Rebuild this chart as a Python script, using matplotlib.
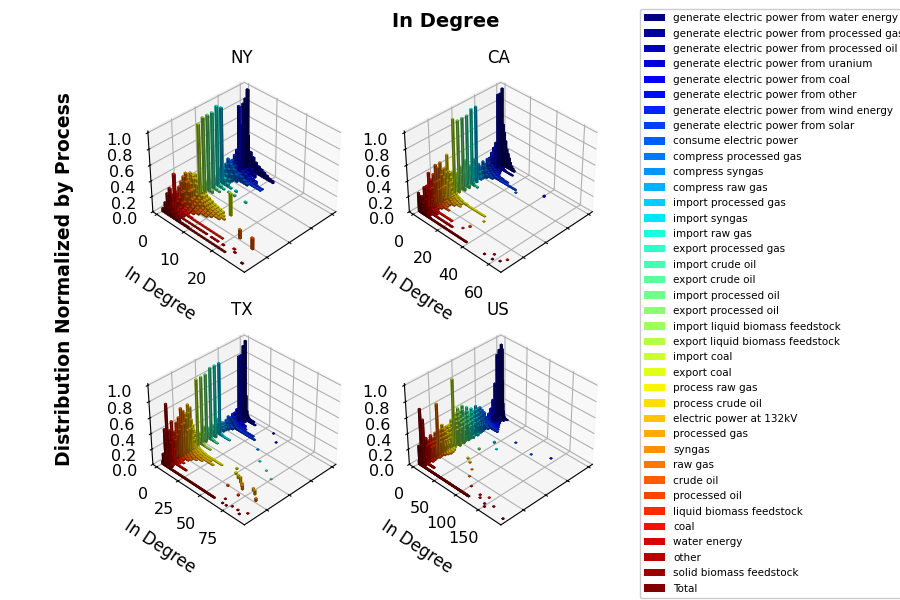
import matplotlib
matplotlib.use("Agg")
import matplotlib.pyplot as plt
from matplotlib.patches import Patch
import numpy as np

processes = [
    "generate electric power from water energy",
    "generate electric power from processed gas",
    "generate electric power from processed oil",
    "generate electric power from uranium",
    "generate electric power from coal",
    "generate electric power from other",
    "generate electric power from wind energy",
    "generate electric power from solar",
    "consume electric power",
    "compress processed gas",
    "compress syngas",
    "compress raw gas",
    "import processed gas",
    "import syngas",
    "import raw gas",
    "export processed gas",
    "import crude oil",
    "export crude oil",
    "import processed oil",
    "export processed oil",
    "import liquid biomass feedstock",
    "export liquid biomass feedstock",
    "import coal",
    "export coal",
    "process raw gas",
    "process crude oil",
    "electric power at 132kV",
    "processed gas",
    "syngas",
    "raw gas",
    "crude oil",
    "processed oil",
    "liquid biomass feedstock",
    "coal",
    "water energy",
    "other",
    "solid biomass feedstock",
    "Total",
]

# distribution value of each process at in-degree 0, 1, 2, ...
ny_values = [
    [0, 1.0],
    [0, 0.9, 0.45, 0.25, 0.2, 0.15, 0.12, 0.1, 0.08, 0.06, 0.04, 0.03],
    [0, 0.85, 0.2, 0.1, 0.06],
    [0, 0.6, 0.3, 0.2, 0.15, 0.1, 0.05],
    [0, 0.85, 0.3, 0.15, 0.1],
    [0, 0.3, 0.2, 0.15, 0.1, 0.08, 0.05, 0.04, 0.03],
    [0, 0.25, 0.18, 0.12, 0.1, 0.08, 0.05, 0.03, 0.02, 0.02, 0.01, 0.01],
    [0, 0.2, 0.15, 0.1, 0.08, 0.05, 0.03, 0.02, 0.02, 0.01, 0.01, 0.01],
    [0, 0.2, 0.15, 0.12, 0.1, 0.08, 0.05, 0.03],
    [0, 0.25, 0.2, 0.15, 0.1],
    [0, 0.2, 0.15, 0.1],
    [0, 0.15, 0.1, 0.05],
    [0, 0.95],
    [0, 0.2, 0.15, 0.1, 0.05, 0.02, 0, 0.02],
    [0, 1.0],
    [0, 0.1, 0.06, 0.04, 0.02, 0, 0.02, 0, 0.02],
    [0, 0.95],
    [0, 0.1, 0.05, 0.03, 0.02],
    [0, 0.95],
    [0, 0.12, 0.08, 0.04],
    [0, 0.95],
    [0, 0.1, 0.05],
    [0, 0.9],
    [0, 0.1, 0.05],
    [0, 0.3, 0.25, 0.2, 0.15, 0.12, 0.1, 0.08, 0.06, 0.05, 0.04, 0.03],
    [0, 0.3, 0.28, 0.22, 0.15, 0.12, 0.1, 0.08, 0.06, 0.05, 0.04, 0.03, 0.02],
    [0, 0.35, 0.3, 0.25, 0.18, 0.14, 0.1, 0.08, 0.06, 0.05, 0.04, 0.03, 0.02, 0.02],
    [0, 0.3, 0.25, 0.2, 0.15, 0.12, 0.1, 0.08, 0.06, 0.04, 0.03, 0.02, 0.02],
    [0, 0.38, 0.3, 0.2, 0.12, 0.1, 0.08, 0.05, 0.04, 0.03, 0.02],
    [0, 0.35, 0.3, 0.2, 0.12, 0.08, 0.05, 0.04, 0.03, 0.02],
    [0, 0.3, 0.2, 0.15, 0.1, 0.06, 0.04, 0.03],
    [0, 0.25, 0.2, 0.1, 0.06, 0.04, 0.02],
    [0, 0.2, 0.15, 0.1, 0.05, 0.03],
    [0, 0.45, 0.12, 0.06, 0.04, 0.03, 0.02, 0.02, 0.01, 0.01, 0.01, 0.01, 0.01, 0.01, 0.01, 0.01, 0.01, 0.01, 0.01],
    [0, 0.2, 0.1, 0.05, 0.03, 0.02],
    [0, 0.3, 0.12, 0.05, 0.03, 0.02, 0.01, 0.01, 0.01, 0.01, 0.01, 0.01, 0.01, 0.01, 0.01, 0, 0.01, 0.01, 0.01, 0, 0.01],
    [0, 0.25, 0.1, 0.05, 0.03, 0.02],
    [0.05, 0.15, 0.1, 0.06, 0.05, 0.04, 0.03, 0.02, 0.02, 0.02, 0.01, 0.01, 0.01, 0.01, 0.01, 0.01, 0.01, 0.01, 0.01, 0.01, 0.01, 0.01, 0.01],
]
ny_extra = [(23, 13, 0.3), (15, 12, 0.02), (29, 21, 0.12), (30, 26, 0.15), (37, 28, 0.01), (35, 24, 0.01), (34, 23, 0.01)]

ca_values = [
    [0, 1.0, 0.55, 0.45, 0.35, 0.25, 0.2, 0.15, 0.1, 0.06, 0.04, 0.02],
    [0, 0.95, 0.3, 0.1, 0.05],
    [0, 0.95, 0.25, 0.1, 0.05, 0.03, 0.02, 0.02, 0.01, 0.01, 0.01, 0.01, 0.01, 0.01],
    [0, 0.35, 0.25, 0.15, 0.1, 0.06],
    [0, 0.3, 0.2, 0.15, 0.1, 0.08, 0.05],
    [0, 0.25, 0.2, 0.15, 0.1, 0.06, 0.04, 0.03],
    [0, 0.2, 0.15, 0.12, 0.1, 0.08, 0.06, 0.05, 0.04, 0.03, 0.02, 0.02, 0.02, 0.01, 0.01, 0.01, 0.01],
    [0, 0.2, 0.15, 0.1, 0.08, 0.06, 0.05, 0.04, 0.03, 0.02, 0.02, 0.01, 0.01, 0.01, 0.01, 0.01, 0.01, 0.01, 0.01, 0.01, 0.01, 0.01, 0.01, 0.01, 0.01],
    [0, 0.15, 0.1, 0.08, 0.06, 0.04, 0.03, 0.02],
    [0, 0.2, 0.15, 0.1, 0.05],
    [0, 0.15, 0.1, 0.05],
    [0, 0.2, 0.1, 0.05],
    [0, 0.95],
    [0, 0.3, 0.2, 0.1],
    [0, 0.95],
    [0, 0.25, 0.15, 0.1, 0.05, 0.02, 0, 0.02],
    [0, 0.9],
    [0, 0.35, 0.2, 0.1, 0.05],
    [0, 0.9],
    [0, 0.3, 0.2, 0.1, 0.05],
    [0, 0.9],
    [0, 0.25, 0.15, 0.1],
    [0, 0.95],
    [0, 0.3, 0.2, 0.1],
    [0, 0.3, 0.25, 0.2, 0.15, 0.1, 0.08, 0.06, 0.05, 0.04, 0.03, 0.03, 0.02, 0.02, 0.02, 0.02, 0.01, 0.01, 0.01, 0.01, 0.01, 0.01, 0.01, 0.01, 0.01, 0.01, 0.01, 0.01, 0.01, 0.01],
    [0, 0.55, 0.35, 0.2, 0.15, 0.1, 0.08, 0.06, 0.05, 0.04, 0.03, 0.02, 0.02],
    [0, 0.4, 0.35, 0.25, 0.15, 0.1, 0.08, 0.06, 0.04, 0.03, 0.02, 0.02, 0.01, 0.01],
    [0, 0.4, 0.3, 0.2, 0.15, 0.1, 0.08, 0.06, 0.04, 0.03, 0.02],
    [0, 0.5, 0.35, 0.2, 0.1, 0.08, 0.05, 0.04, 0.03],
    [0, 0.45, 0.3, 0.2, 0.12, 0.08, 0.05, 0.03, 0.02],
    [0, 0.5, 0.3, 0.2, 0.1, 0.06, 0.04, 0.03, 0.02, 0.02, 0.01, 0.01],
    [0, 0.4, 0.3, 0.15, 0.08, 0.05, 0.03, 0.02],
    [0, 0.35, 0.25, 0.15, 0.08, 0.05, 0.03],
    [0, 0.45, 0.25, 0.12, 0.08, 0.05, 0.03, 0.02, 0.02, 0.01, 0.01, 0.01, 0.01, 0.01, 0.01, 0.01, 0.01, 0.01, 0.01, 0.01],
    [0, 0.3, 0.2, 0.1, 0.05, 0.03, 0.02, 0.02, 0.01, 0.01],
    [0, 0.3, 0.15, 0.08, 0.05, 0.03, 0.02, 0.01, 0.01, 0.01, 0.01, 0.01, 0.01, 0.01, 0.01, 0.01, 0.01, 0.01, 0.01, 0.01, 0.01, 0.01, 0.01, 0.01],
    [0, 0.2, 0.12, 0.08, 0.05, 0.03, 0.02, 0.01],
    [0.25, 0.22, 0.15, 0.1, 0.06, 0.04, 0.03, 0.02, 0.02, 0.02, 0.01, 0.01, 0.01, 0.01, 0.01, 0.01, 0.01, 0.01, 0.01, 0.01,
     0.01, 0.01, 0.01, 0.01, 0.01, 0.01, 0.01, 0.01, 0.01, 0.01, 0.01, 0.01, 0.01, 0.01, 0.01, 0.01, 0.01, 0.01, 0.01],
]
ca_extra = [(3, 40, 0.02), (8, 26, 0.01), (26, 32, 0.01), (31, 30, 0.02), (33, 28, 0.01),
            (37, 52, 0.01), (37, 58, 0.01), (36, 62, 0.01), (35, 56, 0.01), (34, 64, 0.01)]

tx_values = [
    [0, 1.0, 0.3, 0.1, 0.05, 0.03, 0.02, 0.01, 0.01, 0.01, 0.01, 0.01],
    [0, 0.95, 0.9, 0.2, 0.1, 0.05, 0.04, 0.03, 0.02, 0.02, 0.01, 0.01, 0.01, 0.01, 0.01, 0.01],
    [0, 0.85, 0.7, 0.85, 0.1, 0.05, 0.03],
    [0, 0.85, 0.15, 0.1, 0.05],
    [0, 0.18, 0.15, 0.12, 0.1, 0.08, 0.06, 0.05, 0.04, 0.03, 0.02, 0.02],
    [0, 0.15, 0.15, 0.12, 0.1, 0.08, 0.06, 0.05, 0.04, 0.03, 0.02, 0.02, 0.02, 0.01, 0.01],
    [0, 0.15, 0.12, 0.12, 0.1, 0.08, 0.06, 0.05, 0.04, 0.04, 0.03, 0.03, 0.02, 0.02, 0.02, 0.02, 0.01, 0.01, 0.01, 0.01, 0.01, 0.01, 0.01, 0.01, 0.01, 0.01],
    [0, 0.12, 0.12, 0.1, 0.1, 0.08, 0.06, 0.05, 0.04, 0.03, 0.03, 0.02, 0.02, 0.02, 0.02, 0.02, 0.01, 0.01, 0.01, 0.01, 0.01, 0.01, 0.01, 0.01, 0.01, 0.01, 0.01, 0.01, 0.01, 0.01],
    [0, 0.15, 0.1, 0.08, 0.05, 0.04, 0.03],
    [0, 0.12, 0.1, 0.06, 0.04],
    [0, 0.1, 0.08, 0.05],
    [0, 0.12, 0.08, 0.05],
    [0, 0.9],
    [0, 0.2, 0.15, 0.1, 0.05, 0.03, 0.02, 0.02, 0.01, 0.01, 0.01, 0.01, 0.01, 0.01, 0.01, 0.01],
    [0, 0.9],
    [0, 0.15, 0.1, 0.08, 0.05],
    [0, 0.9],
    [0, 0.15, 0.1, 0.06, 0.04, 0.03, 0.02, 0.02, 0.01, 0.01, 0.01, 0.01],
    [0, 0.85],
    [0, 0.2, 0.12, 0.06],
    [0, 0.85],
    [0, 0.15, 0.1, 0.06, 0.04, 0.03, 0.02, 0.01, 0.01, 0.01, 0.01, 0.01, 0.01, 0.01],
    [0, 0.85],
    [0, 0.2, 0.15, 0.1, 0.05],
    [0, 0.3, 0.25, 0.2, 0.15, 0.1, 0.08, 0.06, 0.05, 0.04, 0.03, 0.03, 0.02, 0.02, 0.02, 0.02, 0.01, 0.01, 0.01, 0.01, 0.01, 0.01, 0.01, 0.01, 0.01, 0.01, 0.01, 0.01, 0.01, 0.01, 0.01, 0.01, 0.01, 0.01, 0.01],
    [0, 0.55, 0.4, 0.3, 0.2, 0.15, 0.1, 0.08, 0.06, 0.05, 0.04, 0.03, 0.03, 0.02, 0.02, 0.02, 0.01, 0.01, 0.01, 0.01, 0.01, 0.01, 0.01, 0.01, 0.01],
    [0, 0.6, 0.5, 0.3, 0.2, 0.15, 0.1, 0.08, 0.06, 0.05, 0.04, 0.03, 0.03, 0.02, 0.02, 0.02, 0.02, 0.01, 0.01, 0.01, 0.01, 0.01, 0.01, 0.01, 0.01, 0.01, 0.01, 0.01, 0.01, 0.01],
    [0, 0.5, 0.45, 0.3, 0.2, 0.15, 0.1, 0.08, 0.06, 0.05, 0.04, 0.03, 0.03, 0.02, 0.02, 0.02, 0.01, 0.01, 0.01, 0.01],
    [0, 0.55, 0.4, 0.25, 0.15, 0.1, 0.08, 0.06, 0.05, 0.04, 0.03, 0.02, 0.02, 0.01, 0.01, 0.01],
    [0, 0.6, 0.4, 0.25, 0.15, 0.1, 0.08, 0.05, 0.04, 0.03, 0.02, 0.01, 0.01],
    [0, 0.5, 0.35, 0.2, 0.12, 0.08, 0.05, 0.04, 0.03, 0.02, 0.02, 0.01],
    [0, 0.45, 0.3, 0.2, 0.1, 0.06, 0.04, 0.03, 0.02],
    [0, 0.35, 0.25, 0.15, 0.1, 0.06, 0.04, 0.03, 0.02, 0.01, 0.01, 0.01],
    [0, 0.5, 0.3, 0.15, 0.08, 0.05, 0.03, 0.02, 0.01, 0.01],
    [0, 0.4, 0.25, 0.1, 0.05, 0.03, 0.02, 0.01, 0.01, 0.01, 0.01, 0.01, 0.01, 0.01, 0.01, 0.01, 0.01, 0.01, 0.01, 0.01],
    [0, 0.75, 0.3, 0.1, 0.05, 0.03, 0.02, 0.01],
    [0, 0.45, 0.3, 0.15, 0.08, 0.05, 0.03, 0.02, 0.02],
    [0.05, 0.15, 0.1, 0.06, 0.04, 0.03, 0.02, 0.02, 0.02, 0.01, 0.01, 0.01, 0.01, 0.01, 0.01, 0.01, 0.01, 0.01, 0.01, 0.01,
     0.01, 0.01, 0.01, 0.01, 0.01, 0.01, 0.01, 0.01, 0.01, 0.01, 0.01, 0.01, 0.01, 0.01, 0.01, 0.01, 0.01, 0.01, 0.01, 0.01,
     0.01, 0.01, 0.01, 0.01, 0.01, 0.01, 0.01, 0.01, 0.01, 0.01, 0.01, 0.01, 0.01, 0.01, 0.01, 0.01, 0.01, 0.01, 0.01, 0.01],
]
tx_extra = [(0, 34, 0.01), (3, 44, 0.01), (10, 40, 0.01), (14, 52, 0.01), (16, 64, 0.01), (18, 74, 0.01),
            (22, 46, 0.02), (24, 50, 0.03), (25, 55, 0.05), (26, 60, 0.08), (27, 64, 0.05), (28, 67, 0.06),
            (26, 74, 0.04), (27, 78, 0.06), (29, 84, 0.04), (30, 56, 0.02), (31, 70, 0.02), (35, 66, 0.01),
            (37, 68, 0.01), (37, 72, 0.01), (36, 76, 0.01), (36, 82, 0.01), (37, 86, 0.01), (35, 90, 0.01)]

us_values = [
    [0, 0.95, 0.85, 0.9, 0.5, 0.2, 0.1, 0.05, 0.03, 0.02, 0.01, 0.01, 0.01, 0.01, 0.01, 0.01],
    [0, 0.9, 0.6, 0.3, 0.15, 0.08, 0.05, 0.03, 0.02, 0.01, 0.01, 0.01, 0.01],
    [0, 0.85, 0.4, 0.2, 0.1, 0.05, 0.03, 0.02, 0.01, 0.01],
    [0, 0.5, 0.45, 0.3, 0.2, 0.1, 0.05, 0.03, 0.02, 0.01, 0.01, 0.01, 0.01],
    [0, 0.3, 0.2, 0.15, 0.1, 0.08, 0.06, 0.05, 0.04, 0.03, 0.02, 0.02, 0.01, 0.01, 0.01, 0.01],
    [0, 0.2, 0.15, 0.12, 0.1, 0.08, 0.06, 0.05, 0.04, 0.03, 0.03, 0.02, 0.02, 0.02, 0.01, 0.01, 0.01, 0.01, 0.01, 0.01],
    [0, 0.15, 0.12, 0.1, 0.08, 0.07, 0.06, 0.05, 0.04, 0.04, 0.03, 0.03, 0.02, 0.02, 0.02, 0.02, 0.01, 0.01, 0.01, 0.01, 0.01, 0.01, 0.01, 0.01],
    [0, 0.12, 0.1, 0.1, 0.08, 0.07, 0.06, 0.05, 0.05, 0.04, 0.04, 0.03, 0.03, 0.03, 0.02, 0.02, 0.02, 0.02, 0.01, 0.01, 0.01, 0.01, 0.01, 0.01, 0.01, 0.01, 0.01, 0.01],
    [0, 0.2, 0.15, 0.1, 0.08, 0.06, 0.05, 0.04, 0.03, 0.02, 0.02],
    [0, 0.25, 0.2, 0.15, 0.12, 0.1, 0.08, 0.06],
    [0, 0.3, 0.25, 0.2, 0.15, 0.1, 0.08, 0.05, 0.04],
    [0, 0.3, 0.25, 0.2, 0.15, 0.12, 0.1, 0.08, 0.06, 0.04],
    [0, 0.35, 0.3, 0.25, 0.2, 0.15, 0.1, 0.08, 0.06, 0.04],
    [0, 0.3, 0.25, 0.2, 0.15, 0.12, 0.1, 0.08, 0.06, 0.05, 0.04, 0.03],
    [0, 0.35, 0.3, 0.25, 0.2, 0.15, 0.1, 0.08, 0.06],
    [0, 0.3, 0.28, 0.25, 0.2, 0.15, 0.12, 0.1, 0.08, 0.06, 0.05, 0.04],
    [0, 0.4, 0.35, 0.3, 0.25, 0.2, 0.15, 0.1, 0.08, 0.06],
    [0, 0.35, 0.3, 0.25, 0.2, 0.15, 0.12, 0.1, 0.08, 0.06, 0.05],
    [0, 0.45, 0.4, 0.3, 0.25, 0.2, 0.15, 0.1, 0.08],
    [0, 0.4, 0.35, 0.3, 0.25, 0.2, 0.15, 0.12, 0.1, 0.08, 0.06],
    [0, 0.45, 0.4, 0.35, 0.3, 0.2, 0.15, 0.1, 0.08],
    [0, 0.4, 0.35, 0.3, 0.25, 0.2, 0.15, 0.12, 0.1, 0.08, 0.06, 0.05],
    [0, 0.85, 0.3, 0.2, 0.15, 0.1, 0.08],
    [0, 0.35, 0.3, 0.25, 0.2, 0.15, 0.12, 0.1, 0.08, 0.06],
    [0, 0.3, 0.28, 0.25, 0.2, 0.15, 0.12, 0.1, 0.08, 0.06, 0.05, 0.04, 0.03, 0.02],
    [0, 0.3, 0.25, 0.22, 0.2, 0.15, 0.12, 0.1, 0.08, 0.06, 0.05, 0.04, 0.03, 0.03, 0.02, 0.02],
    [0, 0.3, 0.28, 0.25, 0.2, 0.15, 0.12, 0.1, 0.08, 0.06, 0.05, 0.04, 0.03, 0.02, 0.02, 0.02, 0.01],
    [0, 0.35, 0.3, 0.25, 0.2, 0.15, 0.12, 0.1, 0.08, 0.06, 0.05, 0.04, 0.03, 0.02, 0.02],
    [0, 0.3, 0.25, 0.2, 0.15, 0.12, 0.1, 0.08, 0.06, 0.05, 0.04, 0.03, 0.02],
    [0, 0.65, 0.3, 0.2, 0.15, 0.1, 0.08, 0.06, 0.04, 0.03, 0.02],
    [0, 0.3, 0.25, 0.2, 0.15, 0.1, 0.08, 0.06, 0.04, 0.03, 0.02, 0.02],
    [0, 0.25, 0.2, 0.15, 0.1, 0.08, 0.06, 0.04, 0.03, 0.02],
    [0, 0.3, 0.2, 0.15, 0.1, 0.06, 0.04, 0.03, 0.02, 0.02, 0.01],
    [0, 0.25, 0.2, 0.1, 0.06, 0.04, 0.03, 0.02, 0.02, 0.01, 0.01, 0.01],
    [0, 0.3, 0.2, 0.1, 0.06, 0.04, 0.03, 0.02, 0.01],
    [0, 0.55, 0.25, 0.1, 0.05, 0.03, 0.02, 0.01, 0.01, 0.01, 0.01, 0.01, 0.01, 0.01, 0.01, 0.01, 0.01, 0.01, 0.01, 0.01, 0.01, 0.01, 0.01, 0.01, 0.01],
    [0, 0.7, 0.2, 0.1, 0.06, 0.04, 0.03, 0.02, 0.02, 0.01, 0.01],
    [0.05, 0.25, 0.15, 0.1, 0.06, 0.05, 0.04, 0.03, 0.03, 0.02, 0.02, 0.02, 0.02, 0.02, 0.01, 0.01, 0.01, 0.01, 0.01, 0.01,
     0.01, 0.01, 0.01, 0.01, 0.01, 0.01, 0.01, 0.01, 0.01, 0.01, 0.01, 0.01, 0.01, 0.01, 0.01, 0.01, 0.01, 0.01, 0.01, 0.01,
     0.01, 0.01, 0.01, 0.01, 0.01, 0.01, 0.01, 0.01, 0.01, 0.01, 0.01, 0.01, 0.01, 0.01, 0.01, 0.01, 0.01, 0.01, 0.01, 0.01,
     0.01, 0.01, 0.01, 0.01, 0.01, 0.01, 0.01, 0.01, 0.01, 0.01, 0.01, 0.01, 0.01, 0.01, 0.01, 0.01, 0.01, 0.01, 0.01, 0.01,
     0.01, 0.01, 0.01, 0.01, 0.01, 0.01, 0.01, 0.01, 0.01, 0.01, 0.01, 0.01, 0.01, 0.01, 0.01, 0.01, 0.01, 0.01, 0.01, 0.01,
     0.01, 0.01, 0.01, 0.01, 0.01, 0.01, 0.01, 0.01, 0.01, 0.01, 0.01, 0.01, 0.01, 0.01, 0.01, 0.01],
]
us_extra = [(7, 70, 0.01), (8, 110, 0.01), (5, 140, 0.01), (12, 45, 0.02), (14, 60, 0.01), (18, 40, 0.02),
            (24, 45, 0.02), (25, 55, 0.02), (27, 70, 0.01), (30, 80, 0.01), (33, 100, 0.01), (34, 125, 0.01),
            (35, 130, 0.01), (33, 140, 0.01), (36, 145, 0.01), (37, 150, 0.01), (35, 160, 0.01), (37, 190, 0.01)]

panel_names = ["NY", "CA", "TX", "US"]
panel_values = [ny_values, ca_values, tx_values, us_values]
panel_extra = [ny_extra, ca_extra, tx_extra, us_extra]
panel_degticks = [[0, 10, 20], [0, 20, 40, 60], [0, 25, 50, 75], [0, 50, 100, 150]]
panel_deglim = [(-1.5, 31), (-3.3, 69), (-4.7, 98), (-9.5, 199)]

N = len(processes)
cmap = plt.get_cmap("jet")
colors = [cmap(i / (N - 1)) for i in range(N)]

fig = plt.figure(figsize=(9, 6), dpi=100)
rects = [[0.156, 0.538, 0.225, 0.34], [0.441, 0.538, 0.225, 0.34],
         [0.156, 0.117, 0.225, 0.34], [0.441, 0.117, 0.225, 0.34]]

for k in range(4):
    ax = fig.add_axes(rects[k], projection="3d")
    px, dg, hz, cs = [], [], [], []
    for i, row in enumerate(panel_values[k]):
        for d, v in enumerate(row):
            if v > 0:
                px.append(i); dg.append(d); hz.append(v); cs.append(colors[i])
    for (i, d, v) in panel_extra[k]:
        px.append(i); dg.append(d); hz.append(v); cs.append(colors[i])
    px = np.array(px, float); dg = np.array(dg, float); hz = np.array(hz, float)
    span = panel_deglim[k][1] - panel_deglim[k][0]
    ddeg = max(0.8, span / 60.0)
    ax.bar3d(px, dg, np.zeros_like(hz), 0.7, ddeg, hz, color=cs, shade=True)
    ax.set_xlim(-1.9, 39.7)
    ax.set_ylim(*panel_deglim[k])
    ax.set_zlim(0, 1.02)
    ax.set_box_aspect(None, zoom=1.02)
    ax.set_yticks(panel_degticks[k])
    ax.set_xticks([0, 10, 20, 30])
    ax.set_xticklabels([])
    ax.set_zticks([0, 0.2, 0.4, 0.6, 0.8, 1.0])
    ax.set_ylabel("In Degree", fontsize=12, labelpad=8)
    ax.tick_params(labelsize=11.5)
    ax.set_title(panel_names[k], fontsize=12, pad=8)
    ax.view_init(elev=36, azim=45)

handles = [Patch(facecolor=colors[i], label=processes[i]) for i in range(N)]
fig.legend(handles=handles, loc="upper left", bbox_to_anchor=(0.711, 0.985),
           fontsize=7.5, labelspacing=0.52, framealpha=1.0, borderaxespad=0.0)
fig.suptitle("In Degree", fontsize=14, fontweight="bold", x=0.495, y=0.98)
fig.text(0.072, 0.535, "Distribution Normalized by Process", rotation=90,
         fontsize=13.5, fontweight="bold", ha="center", va="center")

fig.savefig("out.png", dpi=100)
